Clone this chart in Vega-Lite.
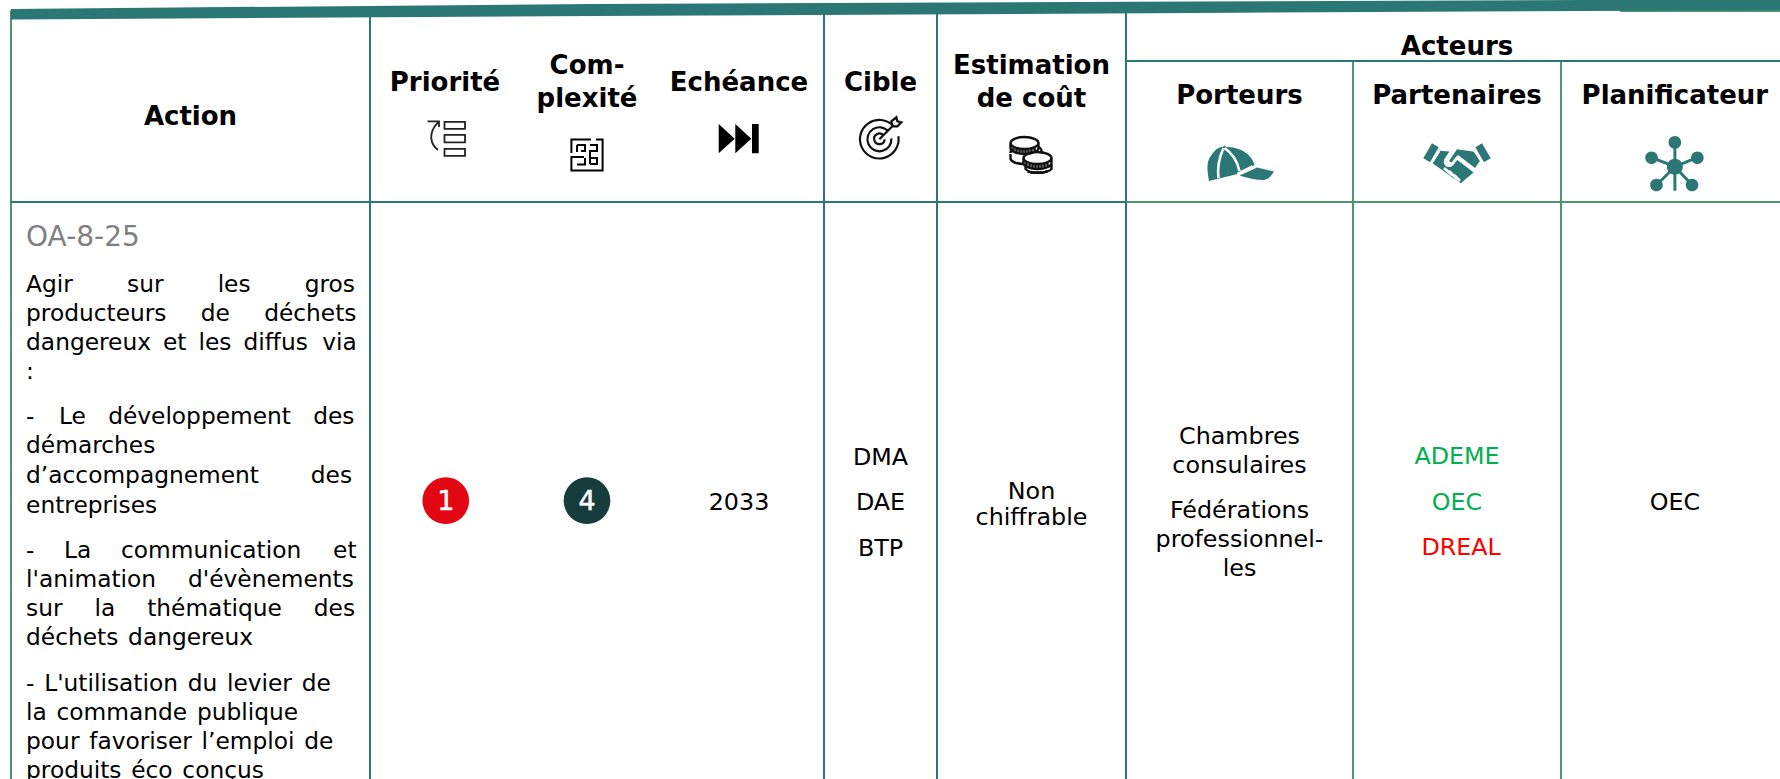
{
"$schema":"https://vega.github.io/schema/vega-lite/v6.json",
"width":1780,"height":779,"autosize":{"type":"fit","contains":"padding"},"padding":0,
"background":"#ffffff","view":{"stroke":null},
"resolve":{"scale":{"color":"independent","fill":"independent","stroke":"independent","shape":"independent","strokeWidth":"independent"}},
"datasets":{
"vertical":[
{"col":0,"from":1.3,"to":100,"tone":"green"},
{"col":1,"from":1,"to":100,"tone":"teal"},
{"col":4,"from":1,"to":100,"tone":"teal"},
{"col":5,"from":1,"to":100,"tone":"teal"},
{"col":6,"from":1,"to":100,"tone":"teal"},
{"col":7,"from":7.83,"to":100,"tone":"green"},
{"col":8,"from":7.83,"to":100,"tone":"green"}],
"horizontal":[
{"col":0,"col2":6,"level":25.93,"tone":"teal"},
{"col":6,"col2":9,"level":25.93,"tone":"green"},
{"col":6,"col2":9,"level":7.83,"tone":"teal"},
{"col":8.27,"col2":9,"level":1.42,"tone":"green"}],
"band":[
{"col":0,"top":1.16,"bottom":2.5},
{"col":2.55,"top":0.5,"bottom":2.05},
{"col":6.3,"top":0.2,"bottom":1.67},
{"col":8.1,"top":0,"bottom":1.41},
{"col":9,"top":0,"bottom":1.3}],
"headers":[
{"col":0.5,"level":16.05,"text":"Action"},
{"col":1.5,"level":11.64,"text":"Priorité"},
{"col":2.5,"level":9.5,"text":"Com-"},
{"col":2.5,"level":13.74,"text":"plexité"},
{"col":3.5,"level":11.64,"text":"Echéance"},
{"col":4.5,"level":11.64,"text":"Cible"},
{"col":5.5,"level":9.5,"text":"Estimation"},
{"col":5.5,"level":13.74,"text":"de coût"},
{"col":7.5,"level":7.0,"text":"Acteurs"},
{"col":6.5,"level":13.35,"text":"Porteurs"},
{"col":7.5,"level":13.35,"text":"Partenaires"},
{"col":8.52,"level":13.35,"text":"Planificateur"}],
"action":[
{"level":37.45,"text":"Agir\u00a0\u00a0\u00a0\u00a0\u00a0\u00a0\u00a0\u200asur\u00a0\u00a0\u00a0\u00a0\u00a0\u00a0\u00a0\u200ales\u00a0\u00a0\u00a0\u00a0\u00a0\u00a0\u00a0\u200agros"},
{"level":41.21,"text":"producteurs\u00a0\u00a0\u00a0\u00a0\u2009de\u00a0\u00a0\u00a0\u00a0\u2009déchets"},
{"level":44.93,"text":"dangereux\u00a0\u2009et\u00a0\u2009les\u00a0\u2009diffus\u00a0\u2009\u200avia"},
{"level":48.65,"text":":"},
{"level":54.43,"text":"-\u00a0\u00a0\u00a0\u200aLe\u00a0\u00a0\u00a0développement\u00a0\u00a0\u00a0des"},
{"level":58.15,"text":"démarches"},
{"level":62.0,"text":"d’accompagnement\u00a0\u00a0\u00a0\u00a0\u00a0\u00a0\u00a0des"},
{"level":65.81,"text":"entreprises"},
{"level":71.59,"text":"-\u00a0\u00a0\u00a0\u00a0La\u00a0\u00a0\u00a0\u00a0communication\u00a0\u00a0\u00a0\u00a0\u200aet"},
{"level":75.31,"text":"l'animation\u00a0\u00a0\u00a0\u00a0\u200ad'évènements"},
{"level":79.04,"text":"sur\u00a0\u00a0\u00a0\u00a0\u200ala\u00a0\u00a0\u00a0\u00a0\u200athématique\u00a0\u00a0\u00a0\u00a0\u200ades"},
{"level":82.8,"text":"déchets\u00a0\u200adangereux"},
{"level":88.7,"text":"-\u00a0\u200aL'utilisation\u00a0\u200adu\u00a0\u200alevier\u00a0\u200ade"},
{"level":92.43,"text":"la\u00a0\u200acommande\u00a0\u200apublique"},
{"level":96.15,"text":"pour\u00a0\u200afavoriser\u00a0\u200al’emploi\u00a0\u200ade"},
{"level":99.87,"text":"produits\u00a0\u200aéco\u00a0\u200aconçus"}],
"code":[{"level":31.58,"text":"OA-8-25"}],
"body":[
{"col":3.5,"level":65.47,"text":"2033","tone":"plain"},
{"col":4.5,"level":59.69,"text":"DMA","tone":"plain"},
{"col":4.5,"level":65.47,"text":"DAE","tone":"plain"},
{"col":4.5,"level":71.37,"text":"BTP","tone":"plain"},
{"col":5.5,"level":64.06,"text":"Non","tone":"plain"},
{"col":5.5,"level":67.34,"text":"chiffrable","tone":"plain"},
{"col":6.5,"level":57.0,"text":"Chambres","tone":"plain"},
{"col":6.5,"level":60.68,"text":"consulaires","tone":"plain"},
{"col":6.5,"level":66.46,"text":"Fédérations","tone":"plain"},
{"col":6.5,"level":70.18,"text":"professionnel-","tone":"plain"},
{"col":6.5,"level":73.94,"text":"les","tone":"plain"},
{"col":7.5,"level":59.6,"text":"ADEME","tone":"support"},
{"col":7.5,"level":65.47,"text":"OEC","tone":"support"},
{"col":7.52,"level":71.25,"text":"DREAL","tone":"lead"},
{"col":8.52,"level":65.47,"text":"OEC","tone":"plain"}],
"badges":[
{"col":1.505,"level":64.27,"kind":"Priorité","text":"1","textLevel":65.47},
{"col":2.5,"level":64.27,"kind":"Complexité","text":"4","textLevel":65.47}],
"solidIcons":[
{"col":3.5,"level":17.8,"icon":"echeance"},
{"col":6.5,"level":21.05,"icon":"casquette"},
{"col":7.5,"level":20.92,"icon":"poignee"},
{"col":8.52,"level":21.4,"icon":"reseau"}],
"lineIcons":[
{"col":1.5,"level":17.84,"icon":"priorite"},
{"col":2.5,"level":19.9,"icon":"labyrinthe"},
{"col":4.49,"level":17.88,"icon":"cible"},
{"col":5.5,"level":19.9,"icon":"pieces"},
{"col":6.5,"level":21.05,"icon":"coutures"},
{"col":7.5,"level":20.92,"icon":"doigts"},
{"col":8.52,"level":21.4,"icon":"branches"}]
},
"layer":[
{"data":{"name":"vertical"},"mark":{"type":"rule","strokeWidth":2},
 "encoding":{"x":{"field":"col","type":"quantitative","axis":null,"scale":{"domain":[0,1,2,3,4,5,6,7,8,9],"range":[11,370,520,654,824,937,1126,1353,1561,1780]}},
 "y":{"field":"from","type":"quantitative","axis":null,"scale":{"domain":[0,100],"range":[0,779]}},
 "y2":{"field":"to"},
 "color":{"field":"tone","type":"nominal","legend":null,"scale":{"domain":["teal","green"],"range":["#2b7776","#4c9670"]}}}},
{"data":{"name":"horizontal"},"mark":{"type":"rule","strokeWidth":2},
 "encoding":{"x":{"field":"col","type":"quantitative","axis":null},"x2":{"field":"col2"},
 "y":{"field":"level","type":"quantitative","axis":null},
 "color":{"field":"tone","type":"nominal","legend":null,"scale":{"domain":["teal","green"],"range":["#2b7776","#4c9670"]}}}},
{"data":{"name":"band"},"mark":{"type":"area","color":"#2b7776","opacity":1},
 "encoding":{"x":{"field":"col","type":"quantitative","axis":null},"y":{"field":"top","type":"quantitative","axis":null},"y2":{"field":"bottom"}}},
{"data":{"name":"headers"},"mark":{"type":"text","font":"DejaVu Sans","fontWeight":"bold","fontSize":26,"align":"center","baseline":"alphabetic","color":"#000000"},
 "encoding":{"x":{"field":"col","type":"quantitative","axis":null},"y":{"field":"level","type":"quantitative","axis":null},"text":{"field":"text"}}},
{"data":{"name":"action"},"mark":{"type":"text","font":"DejaVu Sans","fontSize":23.3,"align":"left","baseline":"alphabetic","color":"#000000"},
 "encoding":{"x":{"datum":0.042,"type":"quantitative","axis":null},"y":{"field":"level","type":"quantitative","axis":null},"text":{"field":"text"}}},
{"data":{"name":"code"},"mark":{"type":"text","font":"DejaVu Sans","fontSize":28,"align":"left","baseline":"alphabetic","color":"#808080"},
 "encoding":{"x":{"datum":0.042,"type":"quantitative","axis":null},"y":{"field":"level","type":"quantitative","axis":null},"text":{"field":"text"}}},
{"data":{"name":"body"},"mark":{"type":"text","font":"DejaVu Sans","fontSize":23.8,"align":"center","baseline":"alphabetic"},
 "encoding":{"x":{"field":"col","type":"quantitative","axis":null},"y":{"field":"level","type":"quantitative","axis":null},"text":{"field":"text"},
 "color":{"field":"tone","type":"nominal","legend":null,"scale":{"domain":["plain","support","lead"],"range":["#000000","#00b050","#ff0000"]}}}},
{"data":{"name":"badges"},"mark":{"type":"point","filled":true,"shape":"circle","size":2180,"opacity":1},
 "encoding":{"x":{"field":"col","type":"quantitative","axis":null},"y":{"field":"level","type":"quantitative","axis":null},
 "fill":{"field":"kind","type":"nominal","legend":null,"scale":{"domain":["Priorité","Complexité"],"range":["#e30613","#163c3c"]}}}},
{"data":{"name":"badges"},"mark":{"type":"text","font":"DejaVu Sans","fontSize":27,"align":"center","baseline":"alphabetic","color":"#ffffff","stroke":"#ffffff","strokeWidth":0.5},
 "encoding":{"x":{"field":"col","type":"quantitative","axis":null},"y":{"field":"textLevel","type":"quantitative","axis":null},"text":{"field":"text"}}},
{"data":{"name":"solidIcons"},"mark":{"type":"point","filled":true,"size":4,"opacity":1},
 "encoding":{"x":{"field":"col","type":"quantitative","axis":null},"y":{"field":"level","type":"quantitative","axis":null},
 "fill":{"field":"icon","type":"nominal","legend":null,"scale":{"domain":["echeance","casquette","poignee","reseau"],"range":["#000000","#2b7776","#2b7776","#2b7776"]}},
 "shape":{"field":"icon","type":"nominal","legend":null,"scale":{"domain":["echeance","casquette","poignee","reseau"],"range":[
 "M-20.3 -14.7L-4.3 0L-20.3 14.7Z M-3.7 -14.7L12.3 0L-3.7 14.7Z M13 -14.7H19.7V14.7H13Z",
 "M-30.5 17C-32 8 -34 -2 -28 -9C-24 -15 -20 -17 -17 -17L-15 -18.5L-13 -17C-4 -17 4 -14 9 -9C12 -6 14 -3 15 1L-2 10Z M17.5 3.5L34.5 7.5C32 12 28 16 24 16C16 16 8 14 0 11.5C6 9 12 6 17.5 3.5Z",
 "M-25 -19.7L-18.4 -15.7L-26.8 -0.7L-33.7 -4.7Z M25 -19.7L33.7 -4.7L26.8 -0.7L18.4 -15.7Z M-17.2 -12.3L-5 -11.3L-12 0C-13 3 -8 5 -5 2L-0.5 -4L17 9L3.8 20.3L-24.5 0.3Z M0 -13.7L17.2 -11.3L23.7 -3L18 5L1 -8L-5 0L-8 -2Z",
 "M-8 0A8 8 0 1 1 8 0A8 8 0 1 1 -8 0Z M-6.3 -24.3A6.3 6.3 0 1 1 6.3 -24.3A6.3 6.3 0 1 1 -6.3 -24.3Z M-29.6 -9A6.3 6.3 0 1 1 -17 -9A6.3 6.3 0 1 1 -29.6 -9Z M16.2 -9A6.3 6.3 0 1 1 28.8 -9A6.3 6.3 0 1 1 16.2 -9Z M-24.7 18.3A6.3 6.3 0 1 1 -12.1 18.3A6.3 6.3 0 1 1 -24.7 18.3Z M10.9 18.3A6.3 6.3 0 1 1 23.5 18.3A6.3 6.3 0 1 1 10.9 18.3Z"
 ]}}}},
{"data":{"name":"lineIcons"},"mark":{"type":"point","filled":false,"size":4,"opacity":1},
 "encoding":{"x":{"field":"col","type":"quantitative","axis":null},"y":{"field":"level","type":"quantitative","axis":null},
 "stroke":{"field":"icon","type":"nominal","legend":null,"scale":{"domain":["priorite","labyrinthe","cible","pieces","coutures","doigts","branches"],"range":["#222222","#000000","#111111","#111111","#ffffff","#ffffff","#2b7776"]}},
 "strokeWidth":{"field":"icon","type":"ordinal","legend":null,"scale":{"domain":["priorite","labyrinthe","cible","pieces","coutures","doigts","branches"],"range":[1.8,3,1.3,1.2,1.3,1.3,2.6]}},
 "shape":{"field":"icon","type":"nominal","legend":null,"scale":{"domain":["priorite","labyrinthe","cible","pieces","coutures","doigts","branches"],"range":[
 "M-0.5 -17H20V-10H-0.5Z M-0.5 -4H20V3.5H-0.5Z M-0.5 10H20V17H-0.5Z M-7 11C-15 5 -17 -6 -7 -16.5 M-17.5 -17.5H-6V-12",
 "M-15.6 -2V-15.6H4 M9 -15.6H15.6V15.6H-15.6V2H-3 M-10 -10H-2V-4H-6 M-10 -10V-3 M3 -10H10V-4H3V3H10V9H3 M-10 9.5H-2V3 M3 -4V9",
 "M14 -13.3A19.3 19.3 0 1 0 19 -3 M9 -8A12 12 0 1 0 12 -1 M4 -4A5.3 5.3 0 1 0 5.3 0 M0 0L13 -13 M13 -13L12 -18L17 -22L18 -18L22 -17L18 -13Z",
 "M-21 -12A14 6 0 1 1 7 -12A14 6 0 1 1 -21 -12Z M-21 -12V-7A14 6 0 0 0 7 -7V-12 M-18 -9V-4M-15 -8V-3M-12 -7V-2M-9 -7V-2M-6 -7V-2M-3 -7V-2M0 -8V-3M3 -9V-4 M7 -8A14 6 0 0 1 10 -4V-1 M-21 -1V4A14 6 0 0 0 -8 9 M-21 -2C-21 -4 -20 -5 -19 -5 M-8 3A14 6 0 1 1 20 3A14 6 0 1 1 -8 3Z M-8 3V8A14 6 0 0 0 20 8V3 M-5 6V11M-2 7V12M1 8V13M4 8V13M7 8V13M10 8V13M13 7V12M16 6V11 M-6 10V14A14 6 0 0 0 20 14V9 M-3 15V18M0 16V19M3 16V19M6 16V19M9 16V19M12 16V19M15 15V18",
 "M-16 -16C-21 -5 -22 6 -21 14 M-15 -16C-6 -10 -2 -2 0 7 M13 2.5L-2 10",
 "M-6 -11.5L-11.5 -3C-13 2 -8 4 -5 1.5L0 -5L17.5 8.5 M-18 7L-12 13 M-13 5L-5 12 M-8 8L0 16 M-3 12L3 18 M-18 -12L-27 2 M18 -12L27 2",
 "M0 -24V24 M0 0L-23 -9 M0 0L22 -9 M0 0L-18 18 M0 0L17 18"
 ]}}}}
]
}
